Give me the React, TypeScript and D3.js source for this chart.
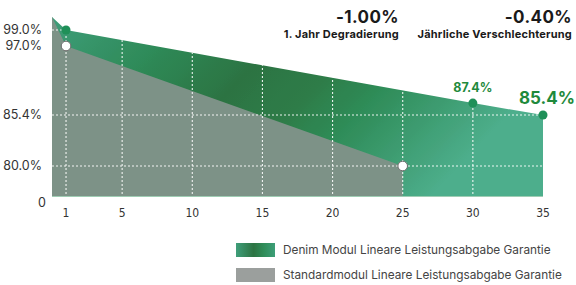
import React from "react";
import * as d3 from "d3";

const years = [1, 5, 10, 15, 20, 25, 30, 35];
const yTickValues = [99.0, 97.0, 85.4, 80.0];
const denimYears = [0, 1, 30, 35];
const denimValues = [100, 99.0, 87.4, 85.4];
const standardYears = [0, 1, 25];
const standardValues = [100, 97.0, 80.0];
const legendLabels = [
  "Denim Modul Lineare Leistungsabgabe Garantie",
  "Standardmodul Lineare Leistungsabgabe Garantie",
];

const W = 576;
const H = 285;
const FONT = "Inter, 'Open Sans', sans-serif";
const NARROW = "'Liberation Sans Narrow', 'DejaVu Sans Condensed', 'Roboto', sans-serif";

export default function App() {
  const x = d3.scaleLinear().domain([0, 35]).range([52, 543]);
  const y = d3
    .scaleLinear()
    .domain([0, 80, 85.4, 97, 99, 100])
    .range([196, 166, 115, 46, 30, 17]);

  const denimPts: [number, number][] = denimYears.map((d, i) => [d, denimValues[i]]);
  const stdPts: [number, number][] = standardYears.map((d, i) => [d, standardValues[i]]);

  const area = d3
    .area<[number, number]>()
    .x((d) => x(d[0]))
    .y0(y(0))
    .y1((d) => y(d[1]));

  const denimPath = area(denimPts) || "";
  const stdPath = area(stdPts) || "";

  const bottom = y(0);

  return (
    <svg width={W} height={H} style={{ position: "absolute", left: 0, top: 0 }}>
      <defs>
        <linearGradient id="greenGrad" x1="0" y1="0" x2="1" y2="0.35">
          <stop offset="0" stopColor="#3f9e7a" />
          <stop offset="0.25" stopColor="#2f8a58" />
          <stop offset="0.45" stopColor="#2d7443" />
          <stop offset="0.6" stopColor="#2f7d49" />
          <stop offset="0.72" stopColor="#2f8c58" />
          <stop offset="1" stopColor="#4eae8c" />
        </linearGradient>
        <linearGradient id="legendGrad" x1="0" y1="0" x2="1" y2="0">
          <stop offset="0" stopColor="#3f9e7a" />
          <stop offset="0.45" stopColor="#2d7443" />
          <stop offset="0.7" stopColor="#2f8c58" />
          <stop offset="1" stopColor="#3d9e78" />
        </linearGradient>
        <clipPath id="denimClip">
          <path d={denimPath} />
        </clipPath>
      </defs>

      {/* Areas */}
      <path d={denimPath} fill="url(#greenGrad)" />
      <path d={stdPath} fill="#7e9388" />
      <line x1={x(0)} x2={x(35)} y1={bottom + 0.5} y2={bottom + 0.5} stroke="#9fcdb4" strokeWidth={1} />

      {/* Grid lines clipped to green area */}
      <g clipPath="url(#denimClip)" stroke="#ffffff" strokeWidth={1.1} strokeDasharray="2,2" opacity={0.9}>
        {years.filter((v) => v < 35).map((v) => (
          <line key={"v" + v} x1={x(v)} x2={x(v)} y1={0} y2={bottom} />
        ))}
        {[85.4, 80.0].map((v) => (
          <line key={"h" + v} x1={x(0)} x2={x(35)} y1={y(v)} y2={y(v)} />
        ))}
        <line x1={x(0)} x2={x(1)} y1={y(99)} y2={y(99)} />
      </g>

      {/* Y tick labels */}
      {yTickValues.map((v) => (
        <text
          key={"yt" + v}
          x={42}
          y={y(v)}
          dy="0.35em"
          textAnchor="end"
          fontFamily={FONT}
          fontSize={12.5}
          fill="#333"
        >
          {v.toFixed(1) + "%"}
        </text>
      ))}
      <text x={46} y={203} dy="0.35em" textAnchor="end" fontFamily={FONT} fontSize={12.5} fill="#333">
        0
      </text>

      {/* X tick labels */}
      {years.map((v) => (
        <text
          key={"xt" + v}
          x={x(v)}
          y={217}
          textAnchor="middle"
          fontFamily={NARROW}
          fontSize={12}
          fill="#333"
        >
          {v}
        </text>
      ))}

      {/* Points */}
      {denimPts.slice(1).map((d, i) => (
        <circle key={"dp" + i} cx={x(d[0])} cy={y(d[1])} r={4.5} fill="#1f9058" />
      ))}
      {stdPts.slice(1).map((d, i) => (
        <circle key={"sp" + i} cx={x(d[0])} cy={y(d[1])} r={4.8} fill="#ffffff" stroke="#6b6b6b" strokeWidth={1} />
      ))}

      {/* Point labels */}
      <text x={x(30)} y={y(87.4) - 11} textAnchor="middle" fontFamily={FONT} fontWeight={700} fontSize={12.5} fill="#1f8a3c">
        {denimValues[2].toFixed(1) + "%"}
      </text>
      <text x={547} y={y(85.4) - 11} textAnchor="middle" fontFamily={FONT} fontWeight={700} fontSize={17} fill="#1f8a3c">
        {denimValues[3].toFixed(1) + "%"}
      </text>

      {/* Header stats */}
      <text x={399} y={23} textAnchor="end" fontFamily={FONT} fontWeight={700} fontSize={17} letterSpacing={0.4} fill="#1a1a1a">
        -1.00%
      </text>
      <text x={399} y={38} textAnchor="end" fontFamily={FONT} fontWeight={700} fontSize={11} letterSpacing={0.2} fill="#1a1a1a">
        1. Jahr Degradierung
      </text>
      <text x={572} y={23} textAnchor="end" fontFamily={FONT} fontWeight={700} fontSize={17} letterSpacing={0.4} fill="#1a1a1a">
        -0.40%
      </text>
      <text x={572} y={38} textAnchor="end" fontFamily={FONT} fontWeight={700} fontSize={11} letterSpacing={0.2} fill="#1a1a1a">
        Jährliche Verschlechterung
      </text>

      {/* Legend */}
      <rect x={236} y={243} width={39} height={14} fill="url(#legendGrad)" />
      <text x={283} y={254} fontFamily={FONT} fontSize={11.8} fill="#444">
        {legendLabels[0]}
      </text>
      <rect x={236} y={268} width={39} height={14} fill="#9b9f9d" />
      <text x={283} y={279} fontFamily={FONT} fontSize={11.8} fill="#444">
        {legendLabels[1]}
      </text>
    </svg>
  );
}
